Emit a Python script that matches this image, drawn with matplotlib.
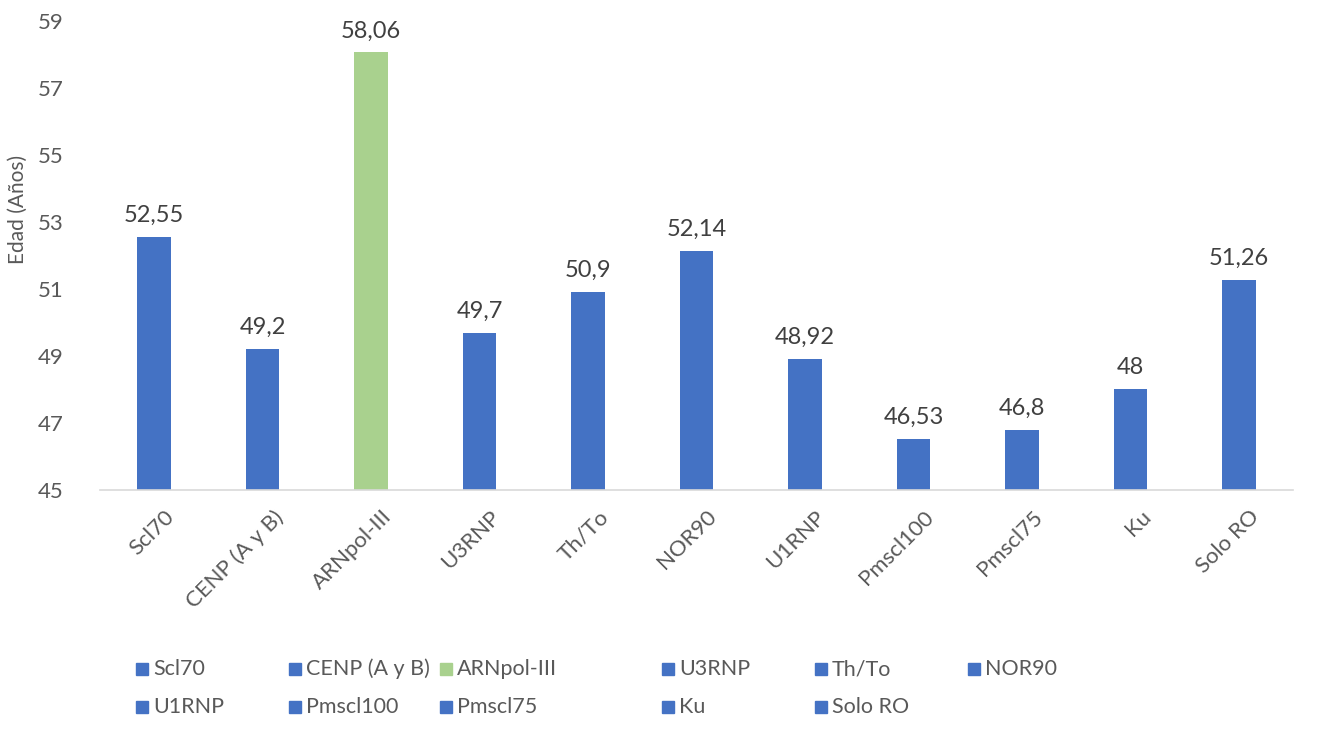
import matplotlib.pyplot as plt
from matplotlib.patches import Rectangle
from matplotlib.transforms import ScaledTranslation

# Data
categories = ['Scl70', 'CENP (A y B)', 'ARNpol-III', 'U3RNP', 'Th/To', 'NOR90',
              'U1RNP', 'Pmscl100', 'Pmscl75', 'Ku', 'Solo RO']
ages = [52.55, 49.2, 58.06, 49.7, 50.9, 52.14, 48.92, 46.53, 46.8, 48, 51.26]
bar_colors = ['#4472C4', '#4472C4', '#A9D18E', '#4472C4', '#4472C4', '#4472C4',
              '#4472C4', '#4472C4', '#4472C4', '#4472C4', '#4472C4']
y_ticks = [45, 47, 49, 51, 53, 55, 57, 59]

plt.rcParams['font.family'] = ['Lato', 'DejaVu Sans']
text_gray = '#595959'

fig = plt.figure(figsize=(13.17, 7.31), dpi=100)
ax = fig.add_axes([0.0759, 0.3297, 0.906, 0.6416])

x = list(range(len(categories)))
ax.bar(x, [a - 45 for a in ages], bottom=45, width=0.31, color=bar_colors)

# Value labels with decimal comma
for xi, v in zip(x, ages):
    ax.annotate(f"{v:g}".replace('.', ','), (xi, v), xytext=(0, 8),
                textcoords='offset points', ha='center', va='bottom',
                fontsize=17, color='#404040')

ax.set_ylim(45, 59)
ax.set_xlim(-0.5, len(categories) - 0.5)
ax.set_yticks(y_ticks)
ax.set_yticklabels([str(t) for t in y_ticks], fontsize=16, color=text_gray)
ax.set_xticks(x)
ax.set_xticklabels(categories, rotation=45, ha='right', rotation_mode='anchor',
                   fontsize=16, color=text_gray)
ax.tick_params(axis='both', length=0)
ax.tick_params(axis='x', pad=12)
ax.tick_params(axis='y', pad=26)

# nudge rotated category labels a little right, as in the reference
shift = ScaledTranslation(10 / 100, 0, fig.dpi_scale_trans)
for lbl in ax.get_xticklabels():
    lbl.set_transform(lbl.get_transform() + shift)

for side in ['top', 'right', 'left']:
    ax.spines[side].set_visible(False)
ax.spines['bottom'].set_color('#D9D9D9')
ax.spines['bottom'].set_linewidth(1.2)

fig.text(0.0137, 0.713, 'Edad (Años)', rotation=90, ha='center', va='center',
         fontsize=15, color=text_gray)

# Manual legend laid out like the spreadsheet legend (row-major, 6 columns)
col_x = [136, 289, 440, 662, 815, 968]
row_y = [669, 707]
W, H = 1317, 731
for i, (name, col) in enumerate(zip(categories, bar_colors)):
    r, c = divmod(i, 6)
    px, py = col_x[c], row_y[r]
    fig.add_artist(Rectangle((px / W, (H - py - 6) / H), 12 / W, 12 / H,
                             transform=fig.transFigure, color=col))
    fig.text((px + 17) / W, (H - py) / H, name, ha='left', va='center',
             fontsize=15.5, color=text_gray)

fig.savefig('out.png', dpi=100, facecolor='white')
